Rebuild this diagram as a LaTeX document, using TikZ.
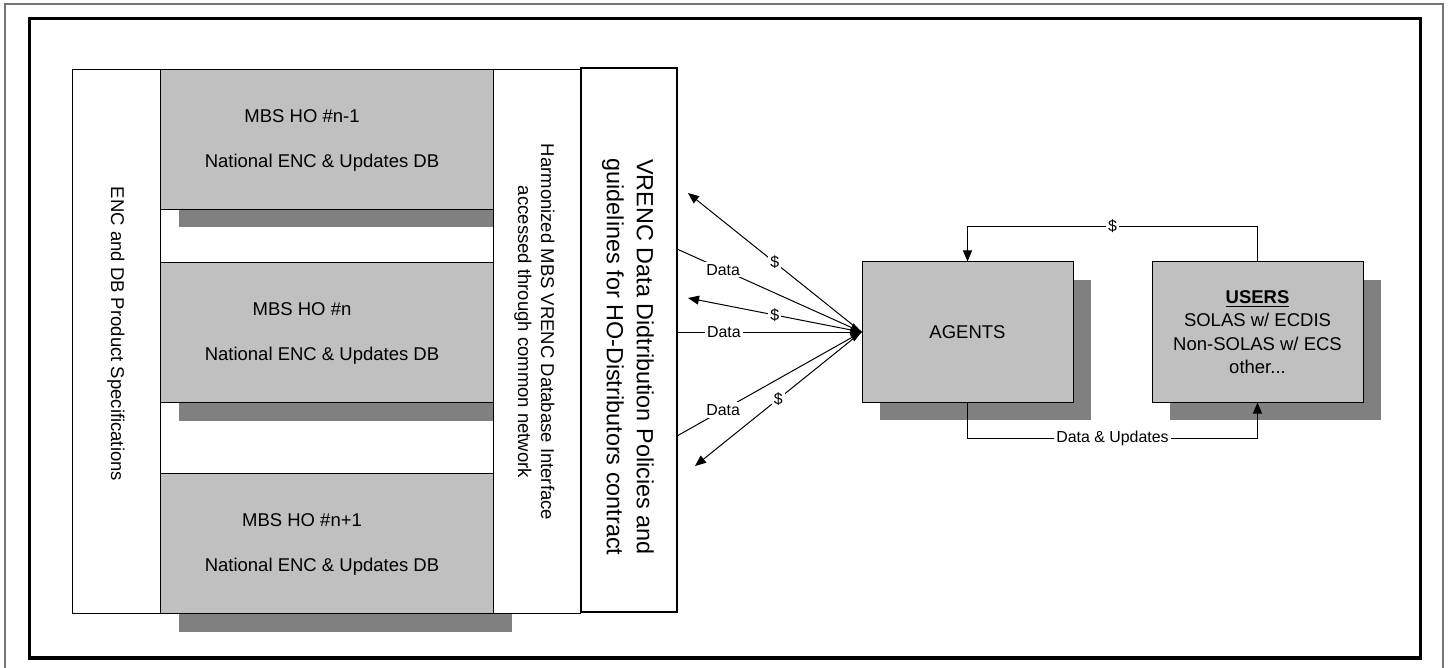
\documentclass[tikz,border=0pt]{standalone}
\usepackage{fontspec}
\setmainfont{Liberation Sans}
\usetikzlibrary{arrows.meta,shadows}
\definecolor{panelgray}{HTML}{C0C0C0}
\definecolor{shadowgray}{HTML}{808080}
\newcommand*{\px}{0.5pt}
\newcommand*{\bodysize}{\fontsize{9.25}{11.5}\selectfont}
\newcommand*{\labelsize}{\fontsize{7.95}{9}\selectfont}
\newcommand*{\titlesize}{\fontsize{11.7}{15}\selectfont}
\tikzset{
	panel/.style n args={2}{
		rectangle,
		draw = black,
		fill = panelgray,
		line width = 0.5pt,
		minimum width = #1*\px,
		minimum height = #2*\px,
		inner sep = 0pt,
		drop shadow = {shadow xshift=9pt, shadow yshift=-9pt, fill=shadowgray, opacity=1},
		},
	column/.style n args={2}{
		rectangle,
		draw = black,
		fill = white,
		line width = 0.5pt,
		minimum width = #1*\px,
		minimum height = #2*\px,
		inner sep = 0pt,
		anchor = north west,
		},
	flow/.style={line width=0.5pt, -{Triangle[length=5.5pt,width=4.5pt]}},
	tag/.style={fill=white, inner sep=1pt, font=\labelsize}
	}

\begin{document}
\begin{tikzpicture}[x=\px, y=-\px, font=\bodysize]
	\useasboundingbox (0,0) rectangle (1450,668);
	\draw [black!55, line width=0.9pt] (5,4) rectangle (1443,675);
	\draw [line width=1.9pt] (29.5,18.5) rectangle (1420.5,658);

	\node (spec) [column={88}{544}] at (72,69) {};
	\foreach \y/\t [count=\i] in {69/n-1, 262/n, 473/n+1} {
		\node (ho\i) [panel={333}{140}, anchor=north west] at (160,\y) {};
		\node (hotitle\i) at (302,\y+47) {MBS HO \#\t};
		\node (hodb\i)    at (322,\y+94) {National ENC \& Updates DB};
	};
	\node (harm) [column={87}{544}] at (493,69) {};
	\node (vrenc) [rectangle, draw, line width=1pt, minimum width=96*\px, minimum height=544*\px] at (629,340) {};

	\node (spectext)  [rotate=-90] at (116,334) {ENC and DB Product Specifications};
	\node (harmtext)  [rotate=-90, align=center] at (534.5,332) {Harmonized MBS VRENC Database Interface\\accessed through common network};
	\node (vrenctext) [rotate=-90, align=center, font=\titlesize] at (628,357) {VRENC Data Didtribution Policies and\\guidelines for HO-Distributors contract};

	\node (agents) [panel={211}{140}] at (967.5,332) {AGENTS};
	\node (users)  [panel={211}{140}, align=center, font=\fontsize{9.25}{11.65}\selectfont] at (1257.5,332)
		{\underline{\textbf{USERS}}\\SOLAS w/ ECDIS\\Non-SOLAS w/ ECS\\other...};

	\coordinate (data1) at (677,249);
	\coordinate (data2) at (vrenc.east |- agents.west);
	\coordinate (data3) at (677,436);
	\coordinate (pay1)  at (688,193);
	\coordinate (pay2)  at (688,298);
	\coordinate (pay3)  at (695,466);

	\foreach \d in {1,2,3} {
		\draw [flow] (data\d) -- node[tag, pos=0.25] {Data} (agents.west);
		\draw [flow] (agents.west) -- node[tag, pos=0.5] {\$} (pay\d);
	};

	\draw [flow] (users.north) -- ++(0,-35) -| node[tag, pos=0.25] {\$} (agents.north);
	\draw [flow] (agents.south) -- ++(0,36) -| node[tag, pos=0.25] {Data \& Updates} (users.south);
\end{tikzpicture}
\end{document}
